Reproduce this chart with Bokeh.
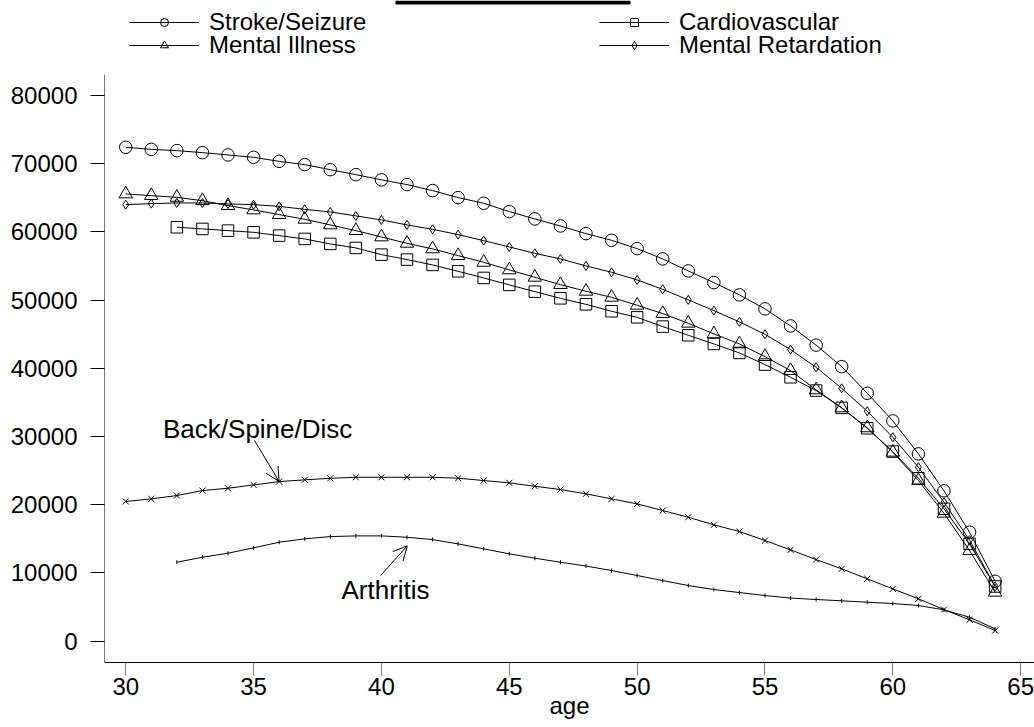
import math
from bokeh.plotting import figure
from bokeh.layouts import column
from bokeh.models import (Range1d, FixedTicker, Legend, LegendItem, Label, Arrow,
                          OpenHead, BasicTickFormatter, BoxAnnotation)
from bokeh.embed import file_html
from bokeh.resources import INLINE

# ---------------- data ----------------
ages = list(range(30, 65))          # 30..64
ages_32 = list(range(32, 65))       # 32..64

stroke_seizure = [72420, 72120, 71930, 71640, 71300, 70950, 70360, 69880, 69140, 68410,
                  67650, 66950, 66070, 65040, 64210, 62990, 61910, 60880, 59760, 58780,
                  57560, 56050, 54290, 52570, 50770, 48720, 46220, 43400, 40250, 36340,
                  32290, 27450, 22030, 15960, 8770]

mental_retardation = [64010, 64160, 64260, 64260, 64110, 64010, 63760, 63320, 62940, 62360,
                      61770, 61040, 60390, 59610, 58730, 57810, 56870, 56050, 55020, 54090,
                      52970, 51590, 50040, 48470, 46810, 44990, 42750, 40150, 37070, 33700,
                      29890, 25490, 20360, 14800, 8000]

mental_illness = [65580, 65330, 65080, 64590, 63870, 63240, 62550, 61860, 61040, 60200,
                  59270, 58340, 57520, 56530, 55550, 54440, 53350, 52280, 51300, 50420,
                  49250, 48030, 46610, 45050, 43580, 41720, 39670, 36840, 34200, 31270,
                  27690, 23540, 18740, 13270, 7160]

cardiovascular = [60690, 60450, 60200, 59950, 59470, 58980, 58250, 57660,
                  56680, 55950, 55170, 54230, 53260, 52240, 51250, 50270, 49390, 48370,
                  47480, 46120, 44850, 43580, 42260, 40550, 38690, 36740, 34200, 31210,
                  27790, 23870, 19390, 14250, 8000]

back_spine_disc = [20470, 20850, 21340, 22070, 22410, 22900, 23390, 23640, 23870, 24020,
                   24020, 24020, 24020, 23880, 23540, 23200, 22700, 22220, 21590, 20850,
                   20120, 19140, 18160, 17040, 16060, 14740, 13370, 11950, 10590, 9120,
                   7650, 6190, 4620, 3110, 1540]

arthritis = [11560, 12290, 12880, 13670, 14490, 14990, 15320, 15420, 15420, 15220,
             14880, 14250, 13520, 12790, 12150, 11560, 11000, 10340, 9610, 8870,
             8140, 7550, 7110, 6670, 6300, 6090, 5900, 5690, 5500, 5210,
             4570, 3490, 1790]

x_ticks = [30, 35, 40, 45, 50, 55, 60, 65]
y_ticks = [0, 10000, 20000, 30000, 40000, 50000, 60000, 70000, 80000]

FONT = "Liberation Sans"

# marker styles per legend series: (marker, size)
STYLES = {
    "Stroke/Seizure": ("circle", 12.5),
    "Cardiovascular": ("square", 11.5),
    "Mental Illness": ("triangle", 13.5),
    "Mental Retardation": ("diamond", 9),
}

# ---------------- main figure ----------------
p = figure(width=1034, height=653, output_backend="svg", toolbar_location=None,
           x_range=Range1d(29.17, 65.54), y_range=Range1d(-3150, 83100),
           min_border_left=104, min_border_right=0, min_border_top=0, min_border_bottom=65)
p.grid.visible = False
p.outline_line_color = None
p.background_fill_color = "white"
p.border_fill_color = "white"

for ax in (p.xaxis[0], p.yaxis[0]):
    ax.major_label_text_font = FONT
    ax.major_label_text_font_size = "24px"
    ax.major_label_text_color = "black"
    ax.axis_line_color = "black"
    ax.major_tick_line_color = "black"
    ax.major_tick_in = 0
    ax.minor_tick_in = 0
    ax.minor_tick_out = 0

p.xaxis.ticker = FixedTicker(ticks=x_ticks)
p.yaxis.ticker = FixedTicker(ticks=y_ticks)
p.yaxis.formatter = BasicTickFormatter(use_scientific=False)
p.yaxis.major_tick_out = 14
p.yaxis.major_label_standoff = 13
p.yaxis.axis_line_color = "#777777"
p.xaxis.major_tick_out = 13
p.xaxis.major_tick_line_color = "#777777"
p.xaxis.major_label_standoff = 2
p.xaxis.axis_label = "age"
p.xaxis.axis_label_text_font = FONT
p.xaxis.axis_label_text_font_size = "24px"
p.xaxis.axis_label_text_font_style = "normal"
p.xaxis.axis_label_text_color = "black"
p.xaxis.axis_label_standoff = -6


def series(fig, xs, ys, marker, size, angle=0.0):
    ln = fig.line(xs, ys, line_color="black", line_width=1)
    sc = fig.scatter(xs, ys, marker=marker, size=size, angle=angle,
                     line_color="black", line_width=1, fill_alpha=0)
    return [ln, sc]


series(p, ages, stroke_seizure, *STYLES["Stroke/Seizure"])
series(p, ages_32, cardiovascular, *STYLES["Cardiovascular"])
series(p, ages, mental_illness, *STYLES["Mental Illness"])
series(p, ages, mental_retardation, *STYLES["Mental Retardation"])
series(p, ages, back_spine_disc, "x", 8.5)
series(p, ages_32, arthritis, "dash", 4, angle=math.pi / 2)

# annotations
p.add_layout(Label(x=35.16, y=31160, text="Back/Spine/Disc", text_align="center",
                   text_baseline="middle", text_font=FONT, text_font_size="26px",
                   text_color="black"))
p.add_layout(Arrow(x_start=35.04, y_start=29400, x_end=ages[6], y_end=back_spine_disc[6],
                   line_color="black", line_width=1,
                   end=OpenHead(size=14, line_color="black", line_width=1)))

p.add_layout(Label(x=40.16, y=7550, text="Arthritis", text_align="center",
                   text_baseline="middle", text_font=FONT, text_font_size="26px",
                   text_color="black"))
p.add_layout(Arrow(x_start=39.97, y_start=9610, x_end=41.01, y_end=13960,
                   line_color="black", line_width=1,
                   end=OpenHead(size=14, line_color="black", line_width=1)))

# ---------------- legend strip (separate figure above the main one) ----------------
top = figure(width=1034, height=74, output_backend="svg", toolbar_location=None,
             x_axis_type=None, y_axis_type=None,
             x_range=Range1d(0, 1), y_range=Range1d(-2, -1),
             min_border_left=0, min_border_right=0, min_border_top=0, min_border_bottom=0)
top.grid.visible = False
top.outline_line_color = None

# same series in the strip (all values lie outside its range, only used for the legend keys)
key_renderers = {
    "Stroke/Seizure": series(top, ages, stroke_seizure, *STYLES["Stroke/Seizure"]),
    "Cardiovascular": series(top, ages_32, cardiovascular, *STYLES["Cardiovascular"]),
    "Mental Illness": series(top, ages, mental_illness, *STYLES["Mental Illness"]),
    "Mental Retardation": series(top, ages, mental_retardation, *STYLES["Mental Retardation"]),
}

legend_slots = [("Stroke/Seizure", 25, 38), ("Cardiovascular", 495, 38),
                ("Mental Illness", 25, 15), ("Mental Retardation", 495, 15)]
for name, lx, ly in legend_slots:
    lg = Legend(items=[LegendItem(label=name, renderers=key_renderers[name])],
                location=(lx, ly), orientation="vertical",
                glyph_width=70, glyph_height=20, label_standoff=10, label_height=20,
                padding=0, margin=0, spacing=0,
                label_text_font=FONT, label_text_font_size="24px",
                label_text_color="black",
                border_line_alpha=0, background_fill_alpha=0)
    top.add_layout(lg, "center")

# black bar at the very top
top.add_layout(BoxAnnotation(left=395, right=630, top=0, bottom=4,
                             left_units="canvas", right_units="canvas",
                             top_units="canvas", bottom_units="canvas",
                             fill_color="black", fill_alpha=1, line_alpha=0))

layout = column(top, p, spacing=0)
open("out.html", "w").write(file_html(layout, INLINE))
